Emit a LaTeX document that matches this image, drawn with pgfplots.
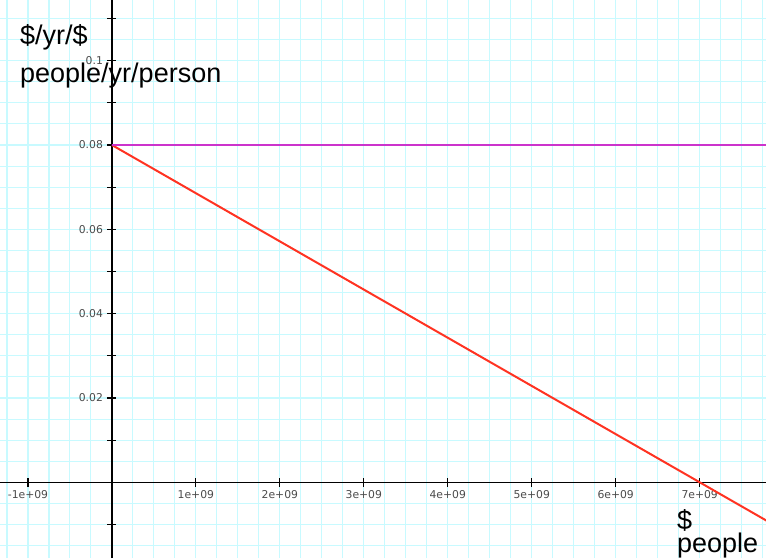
\documentclass[border=0pt]{standalone}
\usepackage{pgfplots}
\pgfplotsset{compat=1.18}
\usepackage{fontspec}
\setmainfont{Liberation Sans}
\newfontfamily\tickfont{DejaVu Sans}
\definecolor{gridc}{RGB}{200,250,255}
\definecolor{redl}{RGB}{255,51,34}
\definecolor{magl}{RGB}{204,51,204}
\definecolor{tickc}{RGB}{75,75,75}
\begin{document}
\begin{tikzpicture}
\begin{axis}[
  at={(0,0)}, anchor=south west,
  scale only axis, width=766pt, height=558pt,
  xmin=-1.333e9, xmax=7.79e9, ymin=-0.01796, ymax=0.1144,
  axis lines=middle,
  axis line style={-, black, line width=1.3pt},
  x axis line style={-}, y axis line style={-},
  scaled x ticks=false, scaled y ticks=false,
  xtick={-1e9,0,1e9,2e9,3e9,4e9,5e9,6e9,7e9},
  xticklabels={-1e+09,,1e+09,2e+09,3e+09,4e+09,5e+09,6e+09,7e+09},
  ytick={-0.01,0,0.01,0.02,0.03,0.04,0.05,0.06,0.07,0.08,0.09,0.1,0.11},
  yticklabels={,,,0.02,,0.04,,0.06,,0.08,,0.1,},
  minor xtick={-1.25e9,-1e9,-0.75e9,-0.5e9,-0.25e9,0,0.25e9,0.5e9,0.75e9,1e9,1.25e9,1.5e9,1.75e9,2e9,2.25e9,2.5e9,2.75e9,3e9,3.25e9,3.5e9,3.75e9,4e9,4.25e9,4.5e9,4.75e9,5e9,5.25e9,5.5e9,5.75e9,6e9,6.25e9,6.5e9,6.75e9,7e9,7.25e9,7.5e9,7.75e9},
  minor ytick={-0.015,-0.01,-0.005,0,0.005,0.01,0.015,0.02,0.025,0.03,0.035,0.04,0.045,0.05,0.055,0.06,0.065,0.07,0.075,0.08,0.085,0.09,0.095,0.1,0.105,0.11},
  grid=both,
  major grid style={gridc, line width=1.1pt},
  minor grid style={gridc, line width=1.1pt},
  tick align=center, major tick length=9pt, minor tick length=0pt,
  tick style={black, line width=1.2pt},
  ticklabel style={font=\tickfont\fontsize{10.8}{12}\selectfont, text=tickc},
  yticklabel style={xshift=-1pt},
]
\addplot[redl, line width=2pt] coordinates {(0,0.08) (7.8e9,-0.0091429)};
\addplot[magl, line width=1.5pt] coordinates {(0,0.08) (7.8e9,0.08)};
\node[anchor=base west, inner sep=0pt, font=\fontsize{27}{30}\selectfont] at (rel axis cs:0.0261,0.92115) {\$/yr/\$};
\node[anchor=base west, inner sep=0pt, font=\fontsize{27}{30}\selectfont] at (rel axis cs:0.0261,0.85305) {people/yr/person};
\node[anchor=base west, inner sep=0pt, font=\fontsize{27}{30}\selectfont] at (rel axis cs:0.88381,0.05018) {\$};
\node[anchor=base west, inner sep=0pt, font=\fontsize{27}{30}\selectfont] at (rel axis cs:0.88381,0.01075) {people};
\end{axis}
\pgfresetboundingbox
\path[use as bounding box] (0,0) rectangle (766pt,558pt);
\end{tikzpicture}
\end{document}
